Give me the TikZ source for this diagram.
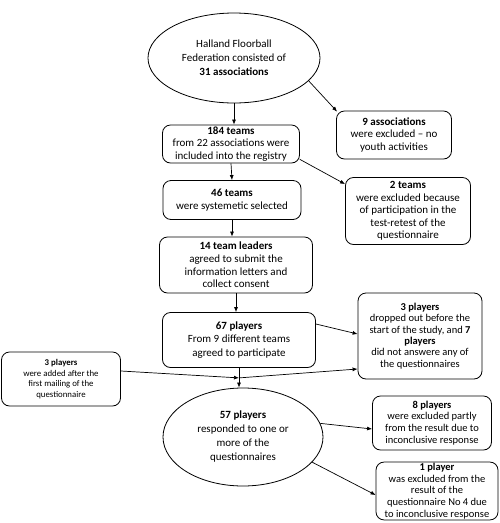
\documentclass[tikz,border=0pt]{standalone}
\usepackage{fontspec}
\setmainfont{Carlito}
\usetikzlibrary{shapes.geometric,arrows.meta}
\begin{document}
\begin{tikzpicture}[x=1pt,y=-1pt,
 box/.style={draw, rounded corners=8pt, align=center, inner sep=1pt, line width=0.8pt, font=\fontsize{11}{12.5}\selectfont},
 side/.style={font=\fontsize{10.5}{11.7}\selectfont},
 ell/.style={draw, ellipse, align=center, inner sep=0pt, line width=0.8pt, font=\fontsize{11}{13.8}\selectfont},
 arr/.style={-{Latex[length=5pt,width=4pt]}, line width=0.7pt}]
\useasboundingbox (0,0) rectangle (500,523);
\node[ell, minimum width=172pt, minimum height=90pt] (e1) at (234,58) {Halland Floorball\\Federation consisted of\\\textbf{31 associations}};
\node[box, minimum width=115pt, minimum height=48pt] (b9) at (394,135) {\textbf{9 associations}\\were excluded – no\\youth activities};
\node[box, minimum width=137pt, minimum height=38pt] (b184) at (231,144) {\textbf{184 teams}\\from 22 associations were\\included into the registry};
\node[box, minimum width=138pt, minimum height=39pt] (b46) at (232,200) {\textbf{46 teams}\\were systemetic selected};
\node[box, minimum width=125pt, minimum height=67pt] (b2) at (408,211) {\textbf{2 teams}\\were excluded because\\of participation in the\\test-retest of the\\questionnaire};
\node[box, minimum width=153pt, minimum height=56pt, font=\fontsize{11}{12.7}\selectfont] (b14) at (236,265) {\textbf{14 team leaders}\\agreed to submit the\\information letters and\\collect consent};
\node[box, minimum width=153pt, minimum height=55pt, font=\fontsize{11}{13.2}\selectfont] (b67) at (239,340) {\textbf{67 players}\\From 9 different teams\\agreed to participate};
\node[box, minimum width=124pt, minimum height=86pt, font=\fontsize{10.5}{11.3}\selectfont] (bdrop) at (420,336) {\textbf{3 players}\\dropped out before the\\start of the study, and \textbf{7}\\\textbf{players}\\did not answere any of\\the questionnaires};
\node[box, minimum width=119pt, minimum height=54pt, font=\fontsize{8.8}{10.6}\selectfont] (badd) at (61,379) {\textbf{3 players}\\were added after the\\first mailing of the\\questionnaire};
\node[ell, minimum width=160pt, minimum height=98pt, font=\fontsize{11}{14}\selectfont] (e57) at (243,437) {\textbf{57 players}\\responded to one or\\more of the\\questionnaires};
\node[box, side, minimum width=119pt, minimum height=54pt] (b8) at (432,423) {\textbf{8 players}\\were excluded partly\\from the result due to\\inconclusive response};
\node[box, side, minimum width=122pt, minimum height=54pt] (b1) at (437,491) {\textbf{1 player}\\was excluded from the\\result of the\\questionnaire No 4 due\\to inconclusive response};
\path (b67.south) ++(0,10) coordinate (j);
\draw[arr] (e1.south) -- (e1.south |- b184.north);
\draw[arr] (e1.-17) -- ([xshift=1pt,yshift=-1pt]b9.north west);
\draw[arr] (b184.south) -- (b46.north);
\draw[arr] ([yshift=4pt]b184.south east) -- ([yshift=-7pt]b2.north west);
\draw[arr] (b46.south) -- (b46.south |- b14.north);
\draw[arr] (b14.south) -- (b14.south |- b67.north);
\draw[arr] ([yshift=16pt]b67.east) -- ([yshift=2pt]bdrop.west);
\draw[arr] (b67.south) -- (b67.south |- e57.north);
\draw[arr] (j) -- ([yshift=-33pt]bdrop.west);
\draw[arr] ([yshift=8pt]badd.east) -- (j);
\draw[arr] (e57.10) -- ([yshift=-6pt]b8.west);
\draw[arr] (e57.-20) -- ([yshift=-4pt]b1.west);
\end{tikzpicture}
\end{document}
